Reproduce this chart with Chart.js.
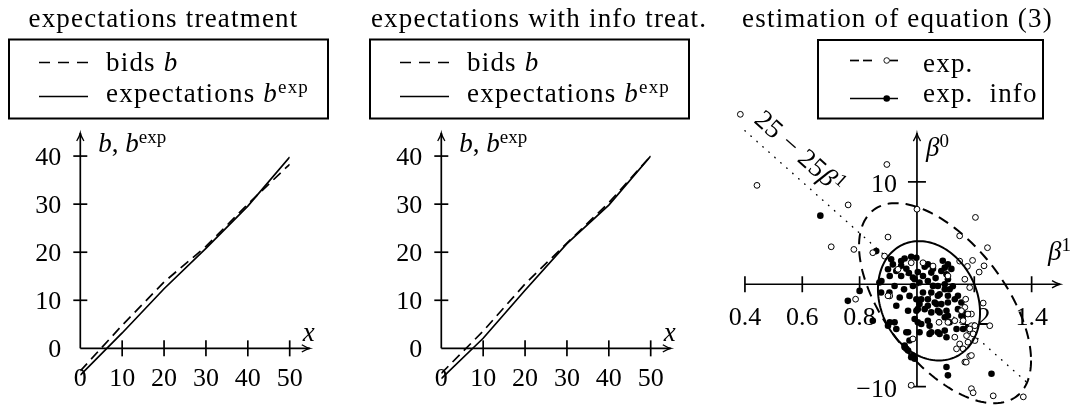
<!DOCTYPE html>
<html><head><meta charset="utf-8">
<script src="https://cdn.jsdelivr.net/npm/chart.js@4.4.1/dist/chart.umd.min.js"></script>
<style>
html,body{margin:0;padding:0;background:#fff;}
body{position:relative;width:1077px;height:408px;overflow:hidden;}
canvas{position:absolute;top:0;}
.fontprobe{position:absolute;left:-2000px;top:0;font-family:"Liberation Serif","DejaVu Serif",serif;font-size:27px;}
</style></head>
<body>
<span class="fontprobe">expectations</span><span class="fontprobe" style="font-style:italic">b x β</span>
<canvas id="p1" width="359" height="408" style="left:0px"></canvas>
<canvas id="p2" width="359" height="408" style="left:361px"></canvas>
<canvas id="p3" width="359" height="408" style="left:718px"></canvas>
<script>
// ---------------- data ----------------
const bidX = [0, 10, 20, 30, 40, 50];
const bidsExpTreat   = [-4.7, 4.8, 13.8, 21.2, 30.0, 38.3];
const expectExpTreat = [-5.6, 3.2, 12.4, 20.8, 29.6, 39.8];
const bidsInfoTreat   = [-5.2, 3.6, 13.4, 21.9, 30.3, 40.0];
const expectInfoTreat = [-6.3, 2.1, 12.1, 21.8, 29.8, 40.0];

const bidXTickValues = [0, 10, 20, 30, 40, 50];
const bidXTickLabels = ['0', '10', '20', '30', '40', '50'];
const bidYTickValues = [0, 10, 20, 30, 40];
const bidYTickLabels = ['0', '10', '20', '30', '40'];

const estXTickValues = [0.4, 0.6, 0.8, 1.2, 1.4];
const estXTickLabels = ['0.4', '0.6', '0.8', '1.2', '1.4'];
const estYTickValues = [10, -10];
const estYTickLabels = ['10', '\u221210'];

// estimates of equation (3): beta1 (x) and beta0 (y)
const expBeta1 = [0.384,0.442,0.760,0.895,0.899,0.701,0.780,0.846,0.887,1.204,1.149,1.246,1.194,1.234,1.149,1.217,1.176,1.184,1.167,0.786,1.231,1.254,1.170,1.167,1.190,1.161,1.190,1.184,1.196,1.202,1.173,1.132,1.149,1.138,1.184,1.167,1.132,1.077,0.986,0.980,1.190,1.196,1.266,1.371,0.905,0.934,1.000,0.980,1.021,1.056,1.108,0.899,1.108,1.155,1.178,1.184,1.202,1.178,1.161,1.190,1.172];
const expBeta0 = [16.6,9.66,7.75,11.70,4.61,3.66,3.40,3.08,2.75,6.53,4.73,3.57,2.33,1.80,2.26,1.19,1.75,-0.32,0.49,-1.46,-1.84,-4.05,-1.46,-2.26,-2.91,-3.56,-4.05,-4.53,-4.85,-5.50,-5.02,-5.17,-5.83,-6.31,-7.02,-7.60,-3.56,-3.72,-5.34,-9.87,-10.20,-10.60,-10.90,-11.00,-1.14,1.46,7.33,2.10,2.10,1.78,0.81,-1.13,-3.72,-2.59,-2.91,-4.37,-4.05,-5.66,-6.31,-6.96,-7.61];
const infoBeta1 = [0.663,0.759,0.800,0.846,0.910,0.957,0.980,0.998,0.928,0.963,0.905,0.986,1.027,1.038,1.056,1.050,1.021,1.108,1.097,1.085,1.103,1.108,1.097,1.073,1.114,0.922,1.009,0.986,0.905,0.969,0.974,0.957,0.980,1.103,1.108,1.260,1.044,1.079,1.103,1.138,1.114,1.097,1.079,1.050,1.038,1.044,1.015,0.992,0.858,0.899,0.875,0.904,0.928,0.969,0.945,0.992,0.972,1.038,1.056,1.050,1.073,1.097,1.108,1.108,1.085,1.062,1.038,1.015,1.003,1.073,1.103,1.108,1.132,1.143,1.155,1.143,1.155,1.161,1.178,1.009,1.050,1.073,1.097,0.957,0.969,0.986,0.992,0.899,0.928,0.963,0.876,0.869,
  0.945,0.945,1.003,0.998,1.009,1.038,1.068,1.079,1.021,0.974,0.998,1.027,1.003,0.916,0.922,0.963,1.120,1.090,1.065,1.125,0.955,0.940];
const infoBeta0 = [6.70,-1.62,-0.65,-3.56,2.43,2.52,2.69,2.59,1.29,1.52,0.81,0.65,1.72,1.94,1.52,1.14,0.81,1.94,1.62,1.29,0.97,0.49,0.00,-0.17,-0.49,-0.17,0.17,-0.17,-3.72,-4.69,-5.50,-6.15,-7.12,-8.09,-8.90,-8.74,-4.85,-4.85,-5.17,-4.37,-3.72,-3.23,-2.75,-2.75,-3.56,-4.05,-3.88,-3.40,3.24,1.46,-0.81,-0.81,-2.10,-2.59,0.81,0.49,1.10,0.32,-0.16,-0.81,-1.13,-0.49,-1.13,-1.78,-1.94,-1.78,-2.10,-1.46,-2.43,-2.59,-2.59,-3.07,-1.46,-1.13,-1.78,-2.43,-3.07,-4.37,-4.21,-4.69,-4.69,-4.69,-4.53,-5.99,-6.47,-6.96,-7.28,-4.05,-4.37,-4.69,0.32,0.17,
  2.27,1.80,1.20,-1.46,-1.94,-1.46,-1.94,-0.97,-0.81,-1.14,-2.59,-2.43,-3.72,1.94,-3.72,-6.30,1.50,2.30,0.60,-0.20,-0.50,-1.30];

// confidence ellipses: centre and two conjugate half-axes (beta1, beta0)
const expEllipseCenter = [1.098, -1.85];
const expEllipseAxisA  = [0.300, -5.59];
const expEllipseAxisB  = [0.000, -8.02];
const infoEllipseCenter = [1.042, -1.62];
const infoEllipseAxisA  = [0.178, -1.14];
const infoEllipseAxisB  = [0.000, -5.72];

// reference line beta0 = 25 - 25 beta1
const refLineIntercept = 25;
const refLineSlope = -25;
const refLineBeta1 = [0.4, 1.38];

// ---------------- helpers ----------------
const FONT = '"Liberation Serif","DejaVu Serif",serif';
const TXT = 27, TICK = 26, SUP = 19;

function rich(ctx, parts, x, y, align, size, ls) {
  size = size || TXT;
  const fontFor = st => (st === 'i' ? 'italic ' : '') + (st === 's' ? SUP : size) + 'px ' + FONT;
  ctx.save();
  ctx.letterSpacing = (ls === undefined ? 1.2 : ls) + 'px';
  ctx.fillStyle = '#000';
  ctx.textAlign = 'left';
  ctx.textBaseline = 'alphabetic';
  let w = 0;
  for (const [t, st] of parts) { ctx.font = fontFor(st); w += ctx.measureText(t).width; }
  let cx = align === 'center' ? x - w / 2 : align === 'right' ? x - w : x;
  for (const [t, st] of parts) {
    ctx.font = fontFor(st);
    ctx.fillText(t, cx, st === 's' ? y - 9 : y);
    cx += ctx.measureText(t).width;
  }
  ctx.restore();
}

function arrowHead(ctx, x, y, dir) {
  ctx.save();
  ctx.lineWidth = 1.3;
  ctx.setLineDash([]);
  ctx.beginPath();
  if (dir === 'r') {
    ctx.moveTo(x - 8, y - 3.6); ctx.quadraticCurveTo(x - 3, y - 0.6, x, y);
    ctx.quadraticCurveTo(x - 3, y + 0.6, x - 8, y + 3.6);
  } else {
    ctx.moveTo(x - 3.6, y + 8); ctx.quadraticCurveTo(x - 0.6, y + 3, x, y);
    ctx.quadraticCurveTo(x + 0.6, y + 3, x + 3.6, y + 8);
  }
  ctx.stroke();
  ctx.restore();
}

function line(ctx, x1, y1, x2, y2) { ctx.beginPath(); ctx.moveTo(x1, y1); ctx.lineTo(x2, y2); ctx.stroke(); }

// ---------------- bid panels ----------------
function bidPanel(id, bids, expect, titleText, titleCx) {
  const deco = {
    id: 'deco',
    beforeDatasetsDraw(chart) {
      const ctx = chart.ctx, xs = chart.scales.x, ys = chart.scales.y;
      const x0 = xs.getPixelForValue(0), y0 = ys.getPixelForValue(0);
      const xEnd = xs.getPixelForValue(54.8), yEnd = ys.getPixelForValue(44.8);
      ctx.save();
      ctx.strokeStyle = '#000'; ctx.lineWidth = 1.7;
      line(ctx, x0, y0, xEnd, y0);
      line(ctx, x0, y0, x0, yEnd);
      arrowHead(ctx, xEnd, y0, 'r');
      arrowHead(ctx, x0, yEnd, 'u');
      bidXTickValues.forEach((v, i) => {
        const px = xs.getPixelForValue(v);
        if (v !== 0) line(ctx, px, y0 - 8, px, y0 + 8);
        rich(ctx, [[bidXTickLabels[i], 'r']], px, y0 + 38, 'center', TICK, 0);
      });
      bidYTickValues.forEach((v, i) => {
        const py = ys.getPixelForValue(v);
        if (v !== 0) line(ctx, x0 - 7, py, x0 + 7, py);
        rich(ctx, [[bidYTickLabels[i], 'r']], x0 - 19, py + 9, 'right', TICK, 0);
      });
      rich(ctx, [['x', 'i']], xEnd - 7, y0 - 7, 'left', TXT, 0);
      rich(ctx, [['b', 'i'], [', ', 'r'], ['b', 'i'], ['exp', 's']], x0 + 18, yEnd + 19, 'left', TXT, 0);
      ctx.restore();
    },
    afterDraw(chart) {
      const ctx = chart.ctx;
      ctx.save();
      rich(ctx, [[titleText, 'r']], titleCx, 27, 'center');
      ctx.strokeStyle = '#000'; ctx.lineWidth = 2;
      ctx.strokeRect(9, 39.5, 319, 79);
      ctx.lineWidth = 1.7;
      ctx.setLineDash([11, 8]);
      line(ctx, 39, 62.5, 88, 62.5);
      ctx.setLineDash([]);
      line(ctx, 39, 96.5, 88, 96.5);
      rich(ctx, [['bids ', 'r'], ['b', 'i']], 106, 70.5, 'left');
      rich(ctx, [['expectations ', 'r'], ['b', 'i'], ['exp', 's']], 106, 101.5, 'left');
      ctx.restore();
    }
  };
  return new Chart(document.getElementById(id), {
    type: 'line',
    data: {
      datasets: [
        { label: 'bids b', data: bidX.map((x, i) => ({ x, y: bids[i] })), borderColor: '#000', borderWidth: 1.7,
          borderDash: [10, 6], pointRadius: 0, tension: 0, fill: false },
        { label: 'expectations b^exp', data: bidX.map((x, i) => ({ x, y: expect[i] })), borderColor: '#000', borderWidth: 1.7,
          pointRadius: 0, tension: 0, fill: false }
      ]
    },
    options: {
      responsive: false, animation: false, devicePixelRatio: 1, events: [],
      layout: { padding: { left: 80.3, right: 69.3, top: 133, bottom: 26 } },
      scales: {
        x: { type: 'linear', min: 0, max: 50, display: false },
        y: { type: 'linear', min: -7, max: 44.8, display: false }
      },
      plugins: { legend: { display: false }, tooltip: { enabled: false }, title: { display: false } }
    },
    plugins: [deco]
  });
}

// ---------------- estimation panel ----------------
function ellipsePath(ctx, xs, ys, c, a, b) {
  ctx.beginPath();
  for (let i = 0; i <= 160; i++) {
    const t = i / 160 * 2 * Math.PI;
    const bx = c[0] + a[0] * Math.cos(t) + b[0] * Math.sin(t);
    const by = c[1] + a[1] * Math.cos(t) + b[1] * Math.sin(t);
    const px = xs.getPixelForValue(bx), py = ys.getPixelForValue(by);
    if (i === 0) ctx.moveTo(px, py); else ctx.lineTo(px, py);
  }
  ctx.closePath();
}

const estDeco = {
  id: 'estDeco',
  beforeDatasetsDraw(chart) {
    const ctx = chart.ctx, xs = chart.scales.x, ys = chart.scales.y;
    const x1 = xs.getPixelForValue(1), y0 = ys.getPixelForValue(0);
    const xStart = xs.getPixelForValue(0.4), xEnd = xs.getPixelForValue(1.499);
    const yStart = ys.getPixelForValue(-10), yEnd = ys.getPixelForValue(14.76);
    ctx.save();
    ctx.strokeStyle = '#000'; ctx.lineWidth = 1.7;
    line(ctx, xStart, y0, xEnd, y0);
    line(ctx, x1, yStart, x1, yEnd);
    arrowHead(ctx, xEnd, y0, 'r');
    arrowHead(ctx, x1, yEnd, 'u');
    estXTickValues.forEach((v, i) => {
      const px = xs.getPixelForValue(v);
      line(ctx, px, y0 - 8, px, y0 + 8);
      rich(ctx, [[estXTickLabels[i], 'r']], px, y0 + 41, 'center', TICK, 0);
    });
    estYTickValues.forEach((v, i) => {
      const py = ys.getPixelForValue(v);
      line(ctx, x1 - 9, py, x1 + 9, py);
      rich(ctx, [[estYTickLabels[i], 'r']], x1 - 20, py + 10, 'right', TICK, 0);
    });
    rich(ctx, [['\u03B2', 'i'], ['1', 's']], xEnd - 12, y0 - 24, 'left', TXT, 0);
    rich(ctx, [['\u03B2', 'i'], ['0', 's']], x1 + 9, yEnd + 23, 'left', TXT, 0);
    ctx.restore();
  },
  afterDatasetsDraw(chart) {
    const ctx = chart.ctx, xs = chart.scales.x, ys = chart.scales.y;
    ctx.save();
    ctx.strokeStyle = '#000';
    ctx.lineWidth = 2;
    ctx.setLineDash([11, 7]);
    ellipsePath(ctx, xs, ys, expEllipseCenter, expEllipseAxisA, expEllipseAxisB);
    ctx.stroke();
    ctx.setLineDash([]);
    ellipsePath(ctx, xs, ys, infoEllipseCenter, infoEllipseAxisA, infoEllipseAxisB);
    ctx.stroke();
    const b0 = refLineBeta1[0], b1 = refLineBeta1[1];
    const pA = [xs.getPixelForValue(b0), ys.getPixelForValue(refLineIntercept + refLineSlope * b0)];
    const pB = [xs.getPixelForValue(b1), ys.getPixelForValue(refLineIntercept + refLineSlope * b1)];
    const ang = Math.atan2(pB[1] - pA[1], pB[0] - pA[0]);
    const off = 12;
    ctx.translate(pA[0] + off * Math.sin(ang), pA[1] - off * Math.cos(ang));
    ctx.rotate(ang);
    rich(ctx, [['25 \u2212 25', 'r'], ['\u03B2', 'i'], ['1', 's']], 0, 0, 'left', TXT, 0.5);
    ctx.restore();
  },
  afterDraw(chart) {
    const ctx = chart.ctx;
    ctx.save();
    rich(ctx, [['estimation of equation (3)', 'r']], 179.5, 27, 'center');
    ctx.strokeStyle = '#000'; ctx.fillStyle = '#000';
    ctx.lineWidth = 2;
    ctx.strokeRect(100, 40, 225, 78.5);
    ctx.lineWidth = 1.7;
    line(ctx, 132, 60.5, 141, 60.5);
    line(ctx, 145, 60.5, 154, 60.5);
    line(ctx, 172, 60.5, 180, 60.5);
    ctx.lineWidth = 0.9;
    ctx.beginPath(); ctx.arc(168.7, 60.5, 2.8, 0, 2 * Math.PI);
    ctx.fillStyle = '#fff'; ctx.fill(); ctx.stroke();
    ctx.lineWidth = 1.7;
    line(ctx, 132, 98.5, 180, 98.5);
    ctx.fillStyle = '#000';
    ctx.beginPath(); ctx.arc(168.7, 98.5, 3.3, 0, 2 * Math.PI); ctx.fill();
    rich(ctx, [['exp.', 'r']], 205, 71.5, 'left');
    rich(ctx, [['exp.  info', 'r']], 205, 101.5, 'left');
    ctx.restore();
  }
};

function buildAll() {
  bidPanel('p1', bidsExpTreat, expectExpTreat, 'expectations treatment', 163.5);
  bidPanel('p2', bidsInfoTreat, expectInfoTreat, 'expectations with info treat.', 178);
  new Chart(document.getElementById('p3'), {
    type: 'scatter',
    data: {
      datasets: [
        { label: 'exp.', data: expBeta1.map((b, i) => ({ x: b, y: expBeta0[i] })), pointRadius: 2.9, pointBorderWidth: 1,
          pointBackgroundColor: '#fff', pointBorderColor: '#000', order: 1, clip: false },
        { label: 'exp. info', data: infoBeta1.map((b, i) => ({ x: b, y: infoBeta0[i] })), pointRadius: 3.3, pointBorderWidth: 0,
          pointBackgroundColor: '#000', pointBorderColor: '#000', order: 2, clip: false },
        { label: '25 - 25 beta1', data: refLineBeta1.map(b => ({ x: b, y: refLineIntercept + refLineSlope * b })),
          showLine: true, pointRadius: 0, borderColor: '#000', borderWidth: 1.4, borderDash: [0.5, 7.5],
          borderCapStyle: 'round', order: 3, clip: false }
      ]
    },
    options: {
      responsive: false, animation: false, devicePixelRatio: 1, events: [],
      layout: { padding: { left: 12.6, right: 16.7, top: 105.1, bottom: 3.8 } },
      scales: {
        x: { type: 'linear', min: 0.35, max: 1.5, display: false },
        y: { type: 'linear', min: -11.6, max: 17.5, display: false }
      },
      plugins: { legend: { display: false }, tooltip: { enabled: false }, title: { display: false } }
    },
    plugins: [estDeco]
  });
}

const fontLoads = [
  document.fonts.load('27px "Liberation Serif"'),
  document.fonts.load('italic 27px "Liberation Serif"'),
  document.fonts.load('27px "DejaVu Serif"')
];
Promise.race([
  Promise.all(fontLoads).catch(() => null),
  new Promise(r => setTimeout(r, 800))
]).then(buildAll);
</script>
</body></html>
